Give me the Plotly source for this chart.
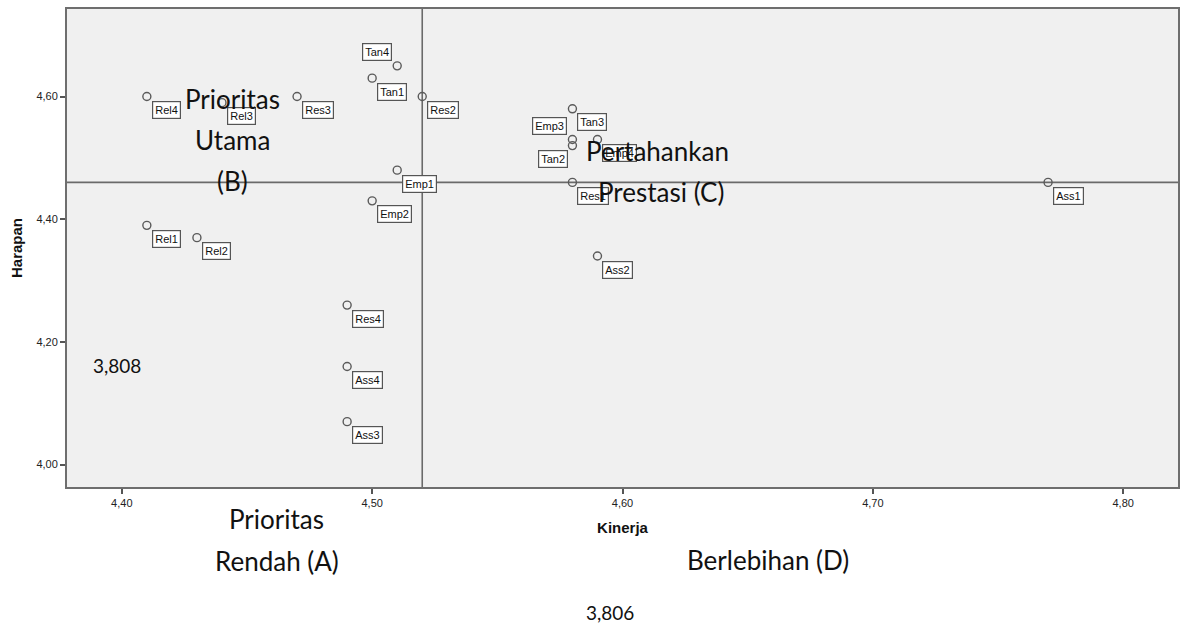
import plotly.graph_objects as go

# ---- data ----
labels = ["Tan1", "Tan2", "Tan3", "Tan4",
          "Rel1", "Rel2", "Rel3", "Rel4",
          "Res1", "Res2", "Res3", "Res4",
          "Ass1", "Ass2", "Ass3", "Ass4",
          "Emp1", "Emp2", "Emp3", "Emp4"]
kinerja = [4.50, 4.58, 4.58, 4.51,
           4.41, 4.43, 4.44, 4.41,
           4.58, 4.52, 4.47, 4.49,
           4.77, 4.59, 4.49, 4.49,
           4.51, 4.50, 4.58, 4.59]
harapan = [4.63, 4.52, 4.58, 4.65,
           4.39, 4.37, 4.59, 4.60,
           4.46, 4.60, 4.60, 4.26,
           4.46, 4.34, 4.07, 4.16,
           4.48, 4.43, 4.53, 4.53]
mean_kinerja = 4.52
mean_harapan = 4.46
x_ticks = [4.40, 4.50, 4.60, 4.70, 4.80]
y_ticks = [4.00, 4.20, 4.40, 4.60]
x_title = "Kinerja"
y_title = "Harapan"

# quadrant texts (one entry per line)
quadrant_lines = ["Prioritas", "Utama", "(B)",
                  "Pertahankan", "Prestasi (C)",
                  "Prioritas", "Rendah (A)",
                  "Berlebihan (D)"]
value_notes = ["3,808", "3,806"]

# ---- layout / style ----
W, H = 1187, 625
L, R, T, B = 67, 1180, 7, 487

def px(xp, yp):
    return (xp - L) / (R - L), (B - yp) / (B - T)

# label placement: default lower-right of point
label_place = {"Tan4": "ul", "Emp3": "ul", "Tan2": "ll"}

quad_pos = [(233, 97), (233, 139), (233, 180),
            (659, 150), (662, 191),
            (277, 519), (277, 561),
            (769, 560)]
note_pos = [(117, 365), (611, 613)]

fig = go.Figure()
fig.add_trace(go.Scatter(
    x=kinerja, y=harapan, mode="markers",
    marker=dict(symbol="circle-open", size=8, color="#5a5a5a",
                line=dict(width=1.4, color="#5a5a5a")),
    hoverinfo="text", text=labels, showlegend=False))

ann = []
for lab, xv, yv in zip(labels, kinerja, harapan):
    p = label_place.get(lab, "lr")
    if p == "lr":
        xa, ya, xs, ys = "left", "top", 5, -4.5
    elif p == "ul":
        xa, ya, xs, ys = "right", "bottom", -5, 4.5
    else:
        xa, ya, xs, ys = "right", "top", -4, -4.5
    ann.append(dict(x=xv, y=yv, xref="x", yref="y", text=lab, showarrow=False,
                    xanchor=xa, yanchor=ya, xshift=xs, yshift=ys,
                    font=dict(family="Liberation Sans, Arial", size=11, color="#111"),
                    bgcolor="white", bordercolor="#555", borderwidth=1.2, borderpad=2))

for txt, (xp, yp) in zip(quadrant_lines, quad_pos):
    xx, yy = px(xp, yp)
    ann.append(dict(x=xx, y=yy, xref="paper", yref="paper", text=txt, showarrow=False,
                    xanchor="center", yanchor="middle",
                    font=dict(family="Lato", size=26, color="#111")))
for txt, (xp, yp) in zip(value_notes, note_pos):
    xx, yy = px(xp, yp)
    ann.append(dict(x=xx, y=yy, xref="paper", yref="paper", text=txt, showarrow=False,
                    xanchor="center", yanchor="middle",
                    font=dict(family="Lato", size=19, color="#111")))

shapes = [
    dict(type="line", xref="x", yref="paper", x0=mean_kinerja, x1=mean_kinerja, y0=0, y1=1,
         line=dict(color="#6a6a6a", width=1.6), layer="below"),
    dict(type="line", xref="paper", yref="y", x0=0, x1=1, y0=mean_harapan, y1=mean_harapan,
         line=dict(color="#6a6a6a", width=1.6), layer="below"),
]

axis_font = dict(family="Liberation Sans, Arial", size=11, color="#222")
fig.update_layout(
    width=W, height=H,
    margin=dict(l=L, r=W - R, t=T, b=H - B),
    paper_bgcolor="white", plot_bgcolor="#F0F0F0",
    separators=",.",
    annotations=ann, shapes=shapes,
    xaxis=dict(range=[4.3781, 4.8219], tickvals=x_ticks, tickformat=".2f",
               ticks="outside", ticklen=5, tickwidth=1.5, tickcolor="#555",
               showgrid=False, zeroline=False, showline=True, mirror=True,
               linecolor="#6e6e6e", linewidth=2, tickfont=axis_font,
               title=dict(text="<b>" + x_title + "</b>", standoff=14,
                          font=dict(family="Liberation Sans, Arial", size=15, color="#111"))),
    yaxis=dict(range=[3.9635, 4.7427], tickvals=y_ticks, tickformat=".2f",
               ticks="outside", ticklen=5, tickwidth=1.5, tickcolor="#555",
               showgrid=False, zeroline=False, showline=True, mirror=True,
               linecolor="#6e6e6e", linewidth=2, tickfont=axis_font,
               title=dict(text="<b>" + y_title + "</b>", standoff=10,
                          font=dict(family="Liberation Sans, Arial", size=15, color="#111"))),
)

fig.write_html("out.html", config={"displayModeBar": False},
               post_script="document.body.style.margin='0';document.body.style.overflow='hidden';")
